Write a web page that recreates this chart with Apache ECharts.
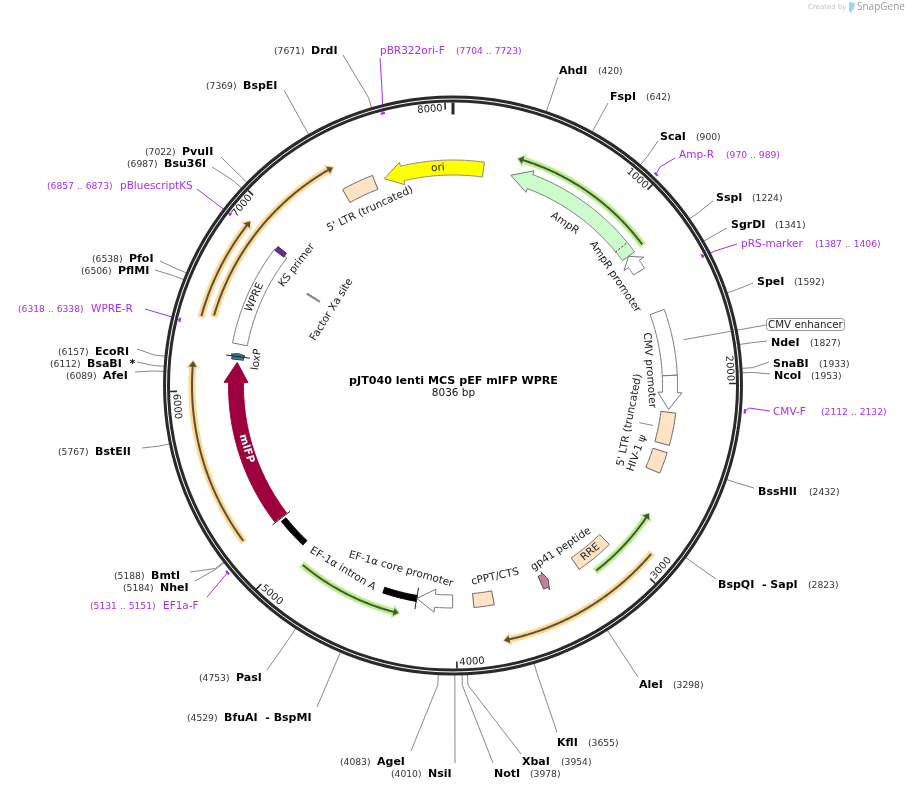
<!DOCTYPE html>
<html lang="en">
<head>
<meta charset="utf-8">
<script src="https://cdn.jsdelivr.net/npm/echarts@6/dist/echarts.min.js"></script>
<style>
    html, body { margin: 0; padding: 0; background: #fff; }
    #chartMain { width: 906px; height: 790px; }
</style>
</head>
<body>
<div id="chartMain"></div>

<script>
    var totalBp = 8036;
    var title = 'pJT040 lenti MCS pEF mIFP WPRE';
    var subtitle = '8036 bp';

    // ruler
    var tickValues = [1000, 2000, 3000, 4000, 5000, 6000, 7000, 8000];

    // restriction sites
    var enzymeNames = ['AhdI', 'FspI', 'ScaI', 'SspI', 'SgrDI', 'SpeI', 'NdeI', 'SnaBI', 'NcoI', 'BssHII',
        'BspQI  - SapI', 'AleI', 'KflI', 'XbaI', 'NotI', 'NsiI', 'AgeI', 'BfuAI  - BspMI', 'PasI', 'BmtI',
        'NheI', 'BstEII', 'AfeI', 'BsaBI  *', 'EcoRI', 'PflMI', 'PfoI', 'Bsu36I', 'PvuII', 'BspEI', 'DrdI'];
    var enzymeSites = [420, 642, 900, 1224, 1341, 1592, 1827, 1933, 1953, 2432,
        2823, 3298, 3655, 3954, 3978, 4010, 4083, 4529, 4753, 5188,
        5184, 5767, 6089, 6112, 6157, 6506, 6538, 6987, 7022, 7369, 7671];

    // primers
    var primerNames = ['Amp-R', 'pRS-marker', 'CMV-F', 'EF1a-F', 'WPRE-R', 'pBluescriptKS', 'pBR322ori-F'];
    var primerStarts = [970, 1387, 2112, 5131, 6318, 6857, 7704];
    var primerEnds = [989, 1406, 2132, 5151, 6338, 6873, 7723];

    // features, tail to tip
    var featureNames = ['ori', 'AmpR', 'AmpR promoter', 'CMV enhancer', 'CMV promoter', "5' LTR (truncated)", 'HIV-1 ψ',
        'RRE', 'gp41 peptide', 'cPPT/CTS', 'EF-1α promoter', 'EF-1α core promoter', 'mIFP', 'linker', 'loxP', 'WPRE',
        'KS primer', 'Factor Xa site', "5' LTR (truncated) "];
    var featureTails = [8215, 1197, 1306, 1567, 1950, 2167, 2398, 3024, 3482, 3780, 4020, 4435, 5192, 5170, 6180, 6271, 6857, 6740, 7380];
    var featureTips = [7625, 343, 1198, 1950, 2151, 2355, 2522, 3249, 3434, 3898, 4234, 4234, 6163, 4984, 6216, 6864, 6885, 6750, 7568];

    // translated frames, tail to tip
    var frameTails = [1197, 3184, 2902, 4917, 5204, 6364, 6383];
    var frameTips = [350, 2741, 3774, 4310, 6155, 6906, 7400];
    var frameKinds = ['green', 'green', 'orange', 'green', 'orange', 'orange', 'orange'];

    // ---- look and layout, nothing below holds chart values ----
    var FONT = '"DejaVu Sans"';
    var PURPLE = '#a82df2';
    var PEACH = '#fde2c3';
    var frameLook = {
        green: { glow: '#b8f08c', line: '#47553a' },
        orange: { glow: '#fed88f', line: '#5a5040' }
    };
    var frameRadius = [236, 234, 260, 234, 261, 261, 249];
    // r, width, head length (bp), head width, fill, stroke
    var featureLook = [
        [218, 15, 110, 23, '#ffff00', '#888'],
        [218, 15, 119, 23, '#ccfccc', '#777'],
        [218, 13, 54, 24, '#fff', '#777'],
        [217, 15, 0, 0, '#fff', '#777'],
        [217, 15, 101, 24, '#fff', '#777'],
        [217, 15, 0, 0, PEACH, '#666'],
        [217, 15, 0, 0, PEACH, '#666'],
        [216, 14, 0, 0, PEACH, '#666'],
        [216, 14, 20, 20, '#c2809f', '#555'],
        [216, 14, 0, 0, PEACH, '#666'],
        [216, 13, 109, 23, '#fff', '#777'],
        [216, 6, 0, 0, '#000', '#000'],
        [217, 15, 118, 24, '#9d003c', '#9d003c'],
        [216, 6, 0, 0, '#000', '#000'],
        [217, 12, 9, 14, '#2c7f9c', '#444'],
        [217, 15, 0, 0, '#fff', '#777'],
        [218, 11, 0, 0, '#7a1fa2', '#333'],
        [165, 15, 0, 0, '#888', '#888'],
        [217.5, 15, 0, 0, PEACH, '#666']
    ];
    // text, bp, r, colour, weight
    var featureText = [
        ['ori', 7947, 218, '#222', 'normal'],
        ['AmpR', 772, 197, '#222', 'normal'],
        ['AmpR promoter', 1254, 195, '#222', 'normal'],
        ['CMV promoter', 1910, 197, '#222', 'normal'],
        ["5' LTR (truncated)", 2256, 180, '#222', 'normal'],
        ['HIV-1 ψ', 2460, 196, '#222', 'normal'],
        ['RRE', 3136, 216, '#222', 'normal'],
        ['gp41 peptide', 3272, 196, '#222', 'normal'],
        ['cPPT/CTS', 3741, 196, '#222', 'normal'],
        ['EF-1α core promoter', 4371, 191, '#222', 'normal'],
        ['EF-1α intron A', 4710, 214, '#222', 'normal'],
        ['mIFP', 5648, 216, '#fff', 'bold'],
        ['loxP', 6195, 198, '#222', 'normal'],
        ['WPRE', 6562, 217, '#222', 'normal'],
        ['KS primer', 6867, 197, '#222', 'normal'],
        ['Factor Xa site', 6741, 143, '#222', 'normal'],
        ["5' LTR (truncated)", 7474, 195, '#222', 'normal']
    ];
    // name x, site x, y, leader end x, leader end y
    var enzymeLook = [
        [559, 598, 70, 558, 77], [610, 646, 96, 608, 103], [660, 696, 136, 658, 141], [716, 752, 197, 713, 201],
        [731, 775, 224, 727, 228], [757, 794, 281, 753, 283], [771, 810, 342, 767, 341], [773, 819, 363, 769, 362],
        [774, 811, 375, 770, 374], [758, 809, 491, 754, 488], [718, 808, 584, 716, 579], [639, 673, 684, 638, 677],
        [557, 588, 742, 557, 732], [522, 561, 761, 521, 754], [494, 530, 773, 493, 763], [428, 391, 773, 455, 763],
        [377, 340, 761, 411, 751], [224, 187, 717, 317, 707], [236, 199, 677, 267, 670], [151, 114, 575, 190, 572],
        [160, 123, 587, 195, 581], [95, 58, 451, 142, 448], [103, 66, 375, 135, 372], [87, 50, 363, 137, 362],
        [95, 58, 351, 137, 349], [118, 81, 270, 155, 270], [129, 92, 258, 160, 261], [164, 127, 163, 212, 167],
        [182, 145, 151, 221, 157], [243, 206, 85, 284, 90], [311, 274, 50, 343, 55]
    ];
    // name x, range x, y, mark r, leader points
    var primerLook = [
        [679, 726, 154, 293, [[675, 158], [660, 167]]],
        [741, 815, 243, 281, [[737, 244], [715, 251]]],
        [773, 821, 411, 293, [[770, 411], [749, 408]]],
        [163, 90, 605, 293, [[207, 597]]],
        [91, 18, 308, 281, [[145, 309], [172, 317]]],
        [120, 47, 185, 281, [[197, 189]]],
        [380, 456, 50, 281, [[380, 58], [382, 90]]]
    ];
    // dashed signal peptide line and end bars: bp, r from, r to, dash
    var crossMarks = [[1130, 210, 225, [2, 2]], [4234, 205, 227, null], [5186, 206, 228, null], [6198, 205, 229, null]];

    function rotationAt(bp) {
        var deg = bp / totalBp * 360 % 360;
        if (deg > 90 && deg < 270) { deg -= 180; }
        return -deg * Math.PI / 180;
    }

    function label(x, y, text, size, color, weight, align) {
        return {
            type: 'text', x: x, y: y,
            style: { text: text, fontFamily: FONT, fontSize: size, fontWeight: weight || 'normal', fill: color,
                align: align || 'left', verticalAlign: 'middle' }
        };
    }

    function arcPoints(api, r, from, to) {
        var pts = [];
        var n = Math.max(1, Math.ceil(Math.abs(to - from) / 8));
        for (var i = 0; i <= n; i++) {
            pts.push(api.coord([r, from + (to - from) * i / n]).slice(0, 2));
        }
        return pts;
    }

    // block arrow along the ring, plain band if head is 0
    function arrowShape(api, tail, tip, r, w, head, headW) {
        var dir = tip > tail ? 1 : -1;
        var base = tip - dir * head;
        var pts = arcPoints(api, r + w / 2, tail, base);
        if (head > 0) {
            pts.push(api.coord([r + headW / 2, base]).slice(0, 2));
            pts.push(api.coord([r, tip]).slice(0, 2));
            pts.push(api.coord([r - headW / 2, base]).slice(0, 2));
        }
        return pts.concat(arcPoints(api, r - w / 2, base, tail));
    }

    function rowsFor(values) {
        return values.map(function (v) { return [0, v]; });
    }

    var myChart = echarts.init(document.getElementById('chartMain'), null, { renderer: 'canvas' });

    function layer(values, renderItem) {
        return { type: 'custom', coordinateSystem: 'polar', silent: true, animation: false, data: rowsFor(values), renderItem: renderItem };
    }

    var series = [];

    // enzyme leaders and labels
    series.push(layer(enzymeSites, function (params, api) {
        var i = params.dataIndex, look = enzymeLook[i];
        var a = api.coord([288, enzymeSites[i]]), b = api.coord([300, enzymeSites[i]]);
        return {
            type: 'group', children: [
                { type: 'polyline', shape: { points: [a.slice(0, 2), b.slice(0, 2), [look[3], look[4]]] }, style: { stroke: '#888', lineWidth: 1, fill: null } },
                label(look[0], look[2] + 1, enzymeNames[i], 11, '#000', 'bold'),
                label(look[1], look[2] + 1.5, '(' + enzymeSites[i] + ')', 9.2, '#333')
            ]
        };
    }));

    // CMV enhancer callout runs under the ring
    series.push(layer([1758], function (params, api) {
        var a = api.coord([235, 1758]);
        return {
            type: 'group', children: [
                { type: 'line', shape: { x1: a[0], y1: a[1], x2: 766, y2: 325 }, style: { stroke: '#888', lineWidth: 1 } },
                { type: 'rect', shape: { x: 766.5, y: 318.5, width: 78, height: 12, r: 3 }, style: { fill: '#fff', stroke: '#999', lineWidth: 1 } },
                label(768, 325.5, 'CMV enhancer', 10.3, '#222')
            ]
        };
    }));

    // primers
    series.push(layer(primerStarts, function (params, api) {
        var i = params.dataIndex, look = primerLook[i];
        var mid = (primerStarts[i] + primerEnds[i]) / 2;
        var m = api.coord([look[3], mid]).slice(0, 2);
        var bar = arcPoints(api, look[3], primerStarts[i], primerEnds[i]);
        return {
            type: 'group', children: [
                { type: 'polyline', shape: { points: look[4].concat([m]) }, style: { stroke: PURPLE, lineWidth: 1, fill: null } },
                { type: 'polyline', shape: { points: bar }, style: { stroke: PURPLE, lineWidth: 2.2, fill: null } },
                label(look[0], look[2] + 1, primerNames[i], 10.5, PURPLE),
                label(look[1], look[2] + 1.5, '(' + primerStarts[i] + ' .. ' + primerEnds[i] + ')', 9.2, PURPLE)
            ]
        };
    }));

    // backbone
    series.push(layer([0], function (params, api) {
        var cx = params.coordSys.cx, cy = params.coordSys.cy;
        return {
            type: 'group', children: [
                { type: 'circle', shape: { cx: cx, cy: cy, r: api.coord([286.5, 0])[2] }, style: { fill: null, stroke: '#2a2a2a', lineWidth: 7 } },
                { type: 'circle', shape: { cx: cx, cy: cy, r: api.coord([286.5, 0])[2] }, style: { fill: null, stroke: '#fff', lineWidth: 1 } },
                { type: 'line', shape: { x1: api.coord([283, 0])[0], y1: api.coord([283, 0])[1], x2: api.coord([271, 0])[0], y2: api.coord([271, 0])[1] }, style: { stroke: '#2a2a2a', lineWidth: 3 } }
            ]
        };
    }));

    // ruler ticks
    series.push(layer(tickValues, function (params, api) {
        var bp = tickValues[params.dataIndex];
        var a = api.coord([283, bp]), b = api.coord([276, bp]);
        var at = bp - 70;
        var t = api.coord([277, at]);
        return {
            type: 'group', children: [
                { type: 'line', shape: { x1: a[0], y1: a[1], x2: b[0], y2: b[1] }, style: { stroke: '#2a2a2a', lineWidth: 1.6 } },
                { type: 'text', x: t[0], y: t[1], rotation: rotationAt(at),
                    style: { text: String(bp), fontFamily: FONT, fontSize: 10, fill: '#222', align: 'center', verticalAlign: 'middle' } }
            ]
        };
    }));

    // translated frames
    series.push(layer(frameTails, function (params, api) {
        var i = params.dataIndex, look = frameLook[frameKinds[i]];
        var r = frameRadius[i], tail = frameTails[i], tip = frameTips[i];
        var inset = tip > tail ? 8 : -8;
        return {
            type: 'group', children: [
                { type: 'polygon', shape: { points: arrowShape(api, tail, tip, r, 7, 42, 14) }, style: { fill: look.glow } },
                { type: 'polygon', shape: { points: arrowShape(api, tail + inset, tip - inset, r, 2, 28, 8) }, style: { fill: look.line } }
            ]
        };
    }));

    // feature blocks
    series.push(layer(featureTails, function (params, api) {
        var i = params.dataIndex, look = featureLook[i];
        return {
            type: 'polygon',
            shape: { points: arrowShape(api, featureTails[i], featureTips[i], look[0], look[1], look[2], look[3]) },
            style: { fill: look[4], stroke: look[5], lineWidth: 1, lineJoin: 'miter' }
        };
    }));

    // small cross marks on feature ends
    series.push(layer(crossMarks.map(function (m) { return m[0]; }), function (params, api) {
        var m = crossMarks[params.dataIndex];
        var a = api.coord([m[1], m[0]]), b = api.coord([m[2], m[0]]);
        return { type: 'line', shape: { x1: a[0], y1: a[1], x2: b[0], y2: b[1] }, style: { stroke: '#222', lineWidth: 1, lineDash: m[3] } };
    }));

    // leader from the right LTR to its label
    series.push(layer([2261], function (params, api) {
        var a = api.coord([190, 2261]), b = api.coord([204, 2261]);
        return { type: 'line', shape: { x1: a[0], y1: a[1], x2: b[0], y2: b[1] }, style: { stroke: '#888', lineWidth: 1 } };
    }));

    // feature labels
    series.push(layer(featureText.map(function (f) { return f[1]; }), function (params, api) {
        var f = featureText[params.dataIndex];
        var p = api.coord([f[2], f[1]]);
        return {
            type: 'text', x: p[0], y: p[1], rotation: rotationAt(f[1]),
            style: { text: f[0], fontFamily: FONT, fontSize: 10.5, fontWeight: f[4], fill: f[3], align: 'center', verticalAlign: 'middle' }
        };
    }));

    myChart.setOption({
        animation: false,
        backgroundColor: '#fff',
        polar: { center: [453, 385.5], radius: 288 },
        angleAxis: { type: 'value', min: 0, max: totalBp, startAngle: 90, clockwise: true, show: false },
        radiusAxis: { type: 'value', min: 0, max: 288, show: false },
        graphic: [
            { type: 'text', x: 453.5, y: 381, style: { text: title, fontFamily: FONT, fontSize: 11.1, fontWeight: 'bold', fill: '#000', align: 'center', verticalAlign: 'middle' } },
            { type: 'text', x: 453.5, y: 393, style: { text: subtitle, fontFamily: FONT, fontSize: 10.5, fill: '#111', align: 'center', verticalAlign: 'middle' } },
            { type: 'text', x: 808, y: 7.5, style: { text: 'Created by', fontFamily: FONT, fontSize: 7, fill: '#c4c4c4', verticalAlign: 'middle' } },
            { type: 'polygon', shape: { points: [[849, 2], [855, 3], [854, 8], [851, 13], [849, 11]] }, style: { fill: '#9fd4ee' } },
            { type: 'text', x: 857, y: 7.5, style: { text: 'SnapGene', fontFamily: '"Open Sans"', fontSize: 10, fill: '#9a9a9a', verticalAlign: 'middle' } }
        ],
        series: series
    });
</script>
</body>
</html>
